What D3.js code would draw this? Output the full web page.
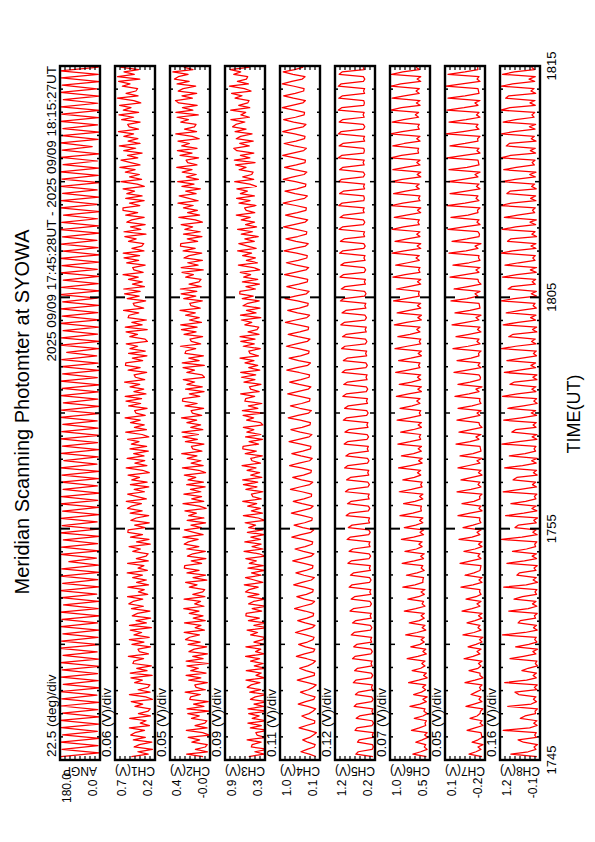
<!DOCTYPE html>
<html><head><meta charset="utf-8">
<script src="https://cdn.jsdelivr.net/npm/d3@7"></script>
<style>html,body{margin:0;padding:0;background:#fff;} svg{display:block;}</style>
</head><body>
<svg id="c" width="595" height="842"></svg>
<script>
const titleText = "Meridian Scanning Photomter at SYOWA";
const subtitleText = "2025 09/09 17:45:28UT - 2025 09/09 18:15:27UT";
const xLabelText = "TIME(UT)";
const timeTickValues = [0, 10, 20, 30];          // minutes after 17:45 UT
const timeTickLabels = ["1745", "1755", "1805", "1815"];
const panelNames = ["ANGP", "CH1(V)", "CH2(V)", "CH3(V)", "CH4(V)", "CH5(V)", "CH6(V)", "CH7(V)", "CH8(V)"];
const perDivLabels = ["22.5 (deg)/div", "0.06 (V)/div", "0.05 (V)/div", "0.09 (V)/div", "0.11 (V)/div", "0.12 (V)/div", "0.07 (V)/div", "0.05 (V)/div", "0.16 (V)/div"];
const topLabels = ["180.0", "0.7", "0.4", "0.9", "1.0", "1.2", "1.0", "0.1", "1.2"];
const bottomLabels = ["0.0", "0.2", "-0.0", "0.3", "0.1", "0.2", "0.5", "-0.2", "-0.1"];
// panel ranges: ANGP in degrees, channels in mV
const yMin = [0, 220, -5, 280, 100, 200, 500, -250, -80];
const yMax = [180, 700, 400, 1000, 980, 1160, 1060, 150, 1200];
const sampleStart = 0.15, sampleEnd = 29.95;     // minutes after 17:45 UT

const angp = [
176,4,171,9,178,2,168,12,174,6,180,3,
169,10,177,5,172,14,179,1,165,8,175,11,
170,3,178,7,166,13,180,2,173,9,167,5,
176,12,171,1,179,8,164,6,174,15,180,4,
168,10,177,3,172,7,140,16,178,5,173,11,
165,2,179,9,170,13,176,4,168,6,180,10,
174,1,166,12,177,7,171,3,179,14,163,8,
175,5,169,11,178,2,172,9,167,13,180,6,
173,3,165,10,177,8,170,1,179,12,168,4,
176,9,172,15,150,6,178,2,174,11,166,7,
180,3,170,10,176,5,168,13,179,1,173,8,
165,4,177,12,171,6,180,2,167,9,175,14,
169,3,178,7,172,11,164,1,179,10,174,5,
168,13,176,2,171,8,180,6,166,12,177,4,
170,35,178,9,173,3,167,11,179,7,172,1,
176,10,165,5,178,14,170,2,174,8,180,6];

const ch1 = [
504,302,426,250,471, 408,258,480,336,512, 462,345,527,286,397, 327,523,275,419,301, 277,460,368,505,251,
331,527,279,423,305, 281,464,372,509,255, 518,316,440,264,485, 474,357,539,298,409, 424,274,496,352,528,
289,472,380,517,263, 526,324,448,272,493, 430,280,502,358,534, 484,367,549,308,419, 349,545,297,441,323,
488,371,553,312,423, 353,549,301,445,327, 303,486,394,531,277, 442,292,514,370,546, 542,340,464,288,509,
446,296,518,374,550, 500,383,565,324,435, 548,346,470,294,515, 315,498,406,543,289, 369,565,317,461,343,
554,352,476,300,521, 321,504,412,549,295, 375,571,323,467,349, 514,397,579,338,449, 464,314,536,392,568,
381,577,329,473,355, 520,403,585,344,455, 470,320,542,398,574, 570,368,492,316,537, 337,520,428,565,311,
339,522,430,567,313, 576,374,498,322,543, 532,415,597,356,467, 482,332,554,410,586, 399,595,347,491,373,
538,421,603,362,473, 488,338,560,416,592, 405,601,353,497,379, 355,538,446,583,329, 592,390,514,338,559,
500,350,572,428,604, 604,402,526,350,571, 375,558,466,603,349, 433,629,381,525,407, 576,459,641,400,511,
628,426,550,374,595, 451,647,399,543,425, 594,477,659,418,529, 548,398,620,476,652, 417,600,508,645,391,
475,671,423,567,449, 429,612,520,657,403, 670,468,592,416,637];

const ch2 = [
65,231,21,143,43, 23,178,100,216,1, 69,235,25,147,47, 27,182,104,220,5, 228,57,162,13,200,
191,92,246,42,136, 149,22,210,88,237, 35,190,112,228,13, 236,65,170,21,208, 155,28,216,94,243,
201,102,256,52,146, 87,253,43,165,65, 205,106,260,56,150, 91,257,47,169,69, 49,204,126,242,27,
167,40,228,106,255, 251,80,185,36,223, 169,42,230,108,257, 214,115,269,65,159, 254,83,188,39,226,
56,211,133,249,34, 102,268,58,180,80, 259,88,193,44,231, 62,217,139,255,40, 108,274,64,186,86,
226,127,281,77,171, 183,56,244,122,271, 112,278,68,190,90, 229,130,284,80,174, 186,59,247,125,274,
270,99,204,55,242, 73,228,150,266,51, 75,230,152,268,53, 276,105,210,61,248, 239,140,294,90,184,
197,70,258,136,285, 126,292,82,204,104, 243,144,298,94,188, 200,73,261,139,288, 129,295,85,207,107,
86,241,163,279,64, 287,116,221,72,259, 206,79,267,145,294, 291,120,225,76,263, 94,249,171,287,72,
144,310,100,222,122, 264,165,319,115,209, 307,136,241,92,279, 156,322,112,234,134, 276,177,331,127,221,
237,110,298,176,325, 126,281,203,319,104, 175,341,131,253,153, 136,291,213,329,114, 340,169,274,125,312,
345,174,279,130,317, 267,140,328,206,355, 316,217,371,167,261];

const ch3 = [
571,292,463,220,526, 512,350,602,269,422, 444,237,543,345,588, 259,511,385,574,223, 587,308,479,236,542,
456,249,555,357,600, 532,370,622,289,442, 347,617,275,473,311, 540,378,630,297,450, 355,625,283,481,319,
287,539,413,602,251, 480,273,579,381,624, 619,340,511,268,574, 488,281,587,389,632, 564,402,654,321,474,
631,352,523,280,586, 311,563,437,626,275, 387,657,315,513,351, 643,364,535,292,598, 323,575,449,638,287,
399,669,327,525,363, 592,430,682,349,502, 524,317,623,425,668, 411,681,339,537,375, 604,442,694,361,514,
536,329,635,437,680, 675,396,567,324,630, 355,607,481,670,319, 359,611,485,674,323, 687,408,579,336,642,
628,466,718,385,538, 560,353,659,461,704, 447,717,375,573,411, 640,478,730,397,550, 572,365,671,473,716,
459,729,387,585,423, 392,644,518,707,356, 721,442,613,370,676, 591,384,690,492,735, 731,452,623,380,686,
412,664,538,727,376, 489,759,417,615,453, 683,521,773,440,593, 751,472,643,400,706, 504,774,432,630,468,
708,546,798,465,618, 648,441,747,549,792, 471,723,597,786,435, 555,825,483,681,519, 495,747,621,810,459,
831,552,723,480,786, 843,564,735,492,798, 720,513,819,621,864, 804,642,894,561,714, 627,897,555,753,591,
567,819,693,882,531, 651,921,579,777,615, 591,843,717,906,555];

const ch4 = [
190,335,520,385,230, 205,368,480,328,245, 180,350,560,400,220, 215,382,500,342,255, 195,367,580,417,235,
210,395,530,355,250, 185,372,600,422,225, 220,410,550,370,260, 200,390,620,440,240, 215,417,570,377,255,
230,415,640,465,270, 210,425,590,385,250, 240,430,660,480,280, 220,440,610,400,260, 250,445,680,495,290,
225,452,630,412,265, 255,457,700,507,295, 235,467,650,427,275, 260,470,720,520,300, 240,480,670,440,280,
270,480,730,530,310, 250,495,690,455,290, 285,497,750,547,325, 260,505,700,465,300, 290,510,770,560,330,
270,520,720,480,310, 300,520,780,570,340, 280,535,740,495,320, 310,535,800,585,350, 290,545,750,505,330,
320,545,810,595,360, 300,560,770,520,340, 330,560,830,610,370, 310,570,780,530,350, 340,570,840,620,380,
320,585,800,545,360, 350,585,860,635,390, 330,595,810,555,370, 360,595,870,645,400, 340,610,830,570,380,
370,605,880,655,410, 350,620,840,580,390, 380,615,890,665,420, 360,630,850,590,400, 390,625,900,675,430,
370,640,860,600,410, 400,635,910,685,440, 380,650,870,610,420, 410,640,910,690,450, 390,660,880,620,430,
420,650,920,700,460, 400,670,890,630,440, 430,655,920,705,470, 410,680,900,640,450, 440,665,930,715,480,
420,685,900,645,460, 450,670,930,720,490, 430,695,910,655,470];

const ch5 = [
250,660,600,270,240, 260,620,580,240,265, 240,680,630,270,235, 270,650,570,250,275, 250,700,640,280,245,
280,670,600,260,285, 260,720,660,290,255, 290,690,620,270,295, 270,740,680,300,265, 300,710,640,280,305,
280,770,700,310,275, 310,740,660,290,315, 290,800,720,320,285, 320,770,690,300,325, 300,820,750,330,295,
330,790,710,310,335, 310,850,770,340,305, 340,820,730,320,345, 320,870,790,350,315, 350,840,750,330,355,
330,890,810,360,325, 360,860,770,340,365, 340,910,830,370,335, 370,880,790,350,375, 350,930,850,380,345,
380,900,810,360,385, 360,940,860,390,355, 390,920,830,370,395, 370,960,880,400,365, 400,930,840,380,405,
380,970,890,410,375, 410,950,860,390,415, 390,990,910,420,385, 420,960,870,400,425, 400,1000,920,430,395,
430,980,890,410,435, 410,1020,940,440,405, 440,990,900,420,445, 420,1030,950,450,415, 450,1010,920,430,455,
430,1040,960,460,425, 460,1020,930,440,465, 440,1050,970,470,435, 470,1030,940,450,475, 450,1060,980,480,445,
480,1040,950,460,485, 460,1070,990,470,455, 470,1050,960,450,475, 450,1080,1000,480,445, 480,1050,970,460,485,
460,1080,1000,470,455, 470,1060,970,450,475, 450,1080,1010,480,445, 480,1060,980,460,485, 460,1080,1000,470,455,
470,1070,980,450,475, 450,1080,1010,480,445, 480,1060,990,460,485];

const ch6 = [
550,740,630,540,580, 560,700,610,530,575, 540,760,650,560,570, 550,720,600,540,585, 570,780,640,550,600,
540,730,620,560,605, 560,800,660,540,590, 550,750,630,570,615, 570,820,670,550,600, 560,770,640,580,625,
580,840,680,560,610, 570,790,650,580,625, 580,860,700,570,610, 590,810,660,580,625, 570,880,710,600,600,
590,830,680,580,625, 600,890,720,590,630, 580,850,690,610,655, 610,900,730,590,640, 590,860,700,600,645,
600,920,740,620,630, 620,870,710,600,645, 600,930,760,610,630, 610,880,720,630,675, 630,940,770,610,660,
610,900,730,620,665, 620,950,780,630,650, 630,910,740,620,665, 620,960,790,630,650, 630,920,750,640,685,
640,970,800,620,670, 620,930,760,630,675, 630,980,810,640,660, 640,940,770,620,665, 620,990,820,630,650,
630,950,780,640,685, 640,1000,830,620,670, 620,960,790,630,675, 630,1010,840,650,660, 650,970,800,630,675,
630,1020,850,640,660, 640,980,810,650,695, 650,1030,860,630,680, 630,990,820,640,685, 640,1030,870,650,670,
650,1000,830,630,675, 630,1040,880,640,660, 640,1010,840,650,695, 650,1040,890,630,680, 630,1020,850,640,685,
640,1050,900,660,670, 660,1020,860,640,685, 640,1050,890,650,670, 650,1030,870,660,705, 660,1050,900,640,690,
640,1030,860,650,695, 650,1050,910,630,680, 630,1040,880,650,695];

const ch7 = [
-220,-90,-160,-210,-180, -230,-120,-180,-220,-215, -210,-70,-150,-230,-200, -220,-100,-170,-200,-205, -230,-60,-140,-220,-190,
-210,-110,-160,-210,-195, -220,-50,-150,-230,-200, -200,-90,-180,-210,-185, -220,-40,-130,-200,-170, -210,-80,-160,-220,-195,
-230,-30,-140,-210,-180, -200,-70,-150,-220,-185, -220,-20,-120,-200,-170, -210,-60,-160,-210,-195, -200,-10,-130,-220,-190,
-220,-50,-140,-200,-205, -210,0,-110,-210,-180, -200,-40,-150,-220,-185, -220,10,-120,-200,-170, -210,-30,-130,-210,-195,
-200,20,-100,-220,-190, -210,-20,-140,-200,-195, -220,30,-110,-210,-180, -200,-10,-120,-220,-185, -210,20,-90,-200,-170,
-220,0,-130,-210,-205, -200,40,-100,-190,-160, -210,10,-110,-220,-195, -190,30,-80,-200,-170, -210,20,-120,-210,-195,
-200,50,-90,-190,-160, -220,20,-100,-200,-205, -190,60,-70,-210,-180, -200,30,-110,-190,-185, -210,70,-80,-200,-170,
-190,40,-90,-210,-175, -200,80,-60,-190,-160, -210,50,-100,-200,-195, -190,90,-70,-180,-150, -200,60,-80,-210,-185,
-180,100,-50,-190,-160, -200,70,-90,-200,-185, -190,110,-60,-180,-150, -210,80,-70,-190,-195, -180,120,-40,-200,-170,
-190,90,-80,-180,-175, -200,130,-50,-190,-160, -180,100,-60,-200,-165, -190,120,-30,-180,-150, -200,110,-70,-190,-185,
-180,130,-40,-200,-170, -190,100,-50,-180,-175, -200,140,-30,-190,-160, -180,110,-60,-200,-165, -190,130,-40,-180,-150,
-200,120,-50,-190,-185, -180,140,-20,-200,-170, -190,120,-50,-180,-175];

const ch8 = [
20,850,300,50,110, 0,450,620,30,90, 40,1100,250,10,120, 20,550,400,60,80, 0,950,200,30,130,
50,600,720,20,100, 10,1050,350,40,140, 30,500,300,0,70, 20,880,450,50,150, 0,700,280,20,90,
40,1120,400,10,130, 30,620,550,60,100, 10,920,300,20,160, 50,750,480,30,80, 20,1080,360,0,140,
40,660,580,50,110, 10,980,420,30,170, 30,800,350,60,90, 20,1150,500,10,150, 50,720,620,40,120,
0,1020,440,20,180, 40,850,380,50,100, 20,1100,550,30,160, 60,780,660,10,130, 30,1050,480,40,190,
10,900,400,60,110, 50,1140,600,20,170, 20,820,700,50,140, 40,1080,520,30,200, 60,950,450,10,120,
30,1120,640,50,180, 50,880,740,20,150, 20,1060,580,60,210, 60,980,500,30,130, 40,1150,700,50,190,
70,920,780,20,160, 30,1100,620,60,220, 50,1000,550,40,140, 80,1160,750,30,200, 40,940,820,70,170,
60,1120,660,40,230, 30,1040,600,80,150, 70,1170,800,50,210, 50,960,860,30,180, 80,1130,700,60,240,
40,1060,640,90,160, 70,1180,840,50,220, 60,980,880,40,190, 90,1140,720,70,250, 50,1080,680,100,170,
80,1180,860,60,230, 70,1000,900,50,200, 100,1150,760,80,260, 60,1100,700,110,180, 90,1180,880,70,240,
80,1020,920,60,210, 110,1160,800,90,270, 70,1120,740,100,190];

const series = [angp, ch1, ch2, ch3, ch4, ch5, ch6, ch7, ch8];

// ---------- layout (unrotated landscape frame, then rotated onto the portrait page) ----------
const left = 82, right = 776;
const panelTop0 = 60, panelH = 40, panelStep = 55;
const font = "'Liberation Sans', Arial, Helvetica, sans-serif";

const svg = d3.select("#c");
svg.append("rect").attr("width", 595).attr("height", 842).attr("fill", "#fff");
const defs = svg.append("defs");
const g = svg.append("g").attr("transform", "translate(0,842) rotate(-90)");

const x = d3.scaleLinear().domain([0, 30]).range([left, right]);

g.append("text").attr("x", 430).attr("y", 29).attr("text-anchor", "middle")
  .attr("font-family", font).attr("font-size", 20).text(titleText);
g.append("text").attr("x", right).attr("y", 56).attr("text-anchor", "end")
  .attr("font-family", font).attr("font-size", 13.5).text(subtitleText);

series.forEach((vals, i) => {
  const v0 = panelTop0 + i * panelStep;
  const y = d3.scaleLinear().domain([yMin[i], yMax[i]]).range([v0 + panelH, v0]);
  const ts = d3.scaleLinear().domain([0, vals.length - 1]).range([sampleStart, sampleEnd]);

  defs.append("clipPath").attr("id", "clip" + i)
    .append("rect").attr("x", left).attr("y", v0).attr("width", right - left).attr("height", panelH);

  const line = d3.line().x((d, j) => x(ts(j))).y(d => y(d));
  g.append("path").datum(vals).attr("d", line)
    .attr("clip-path", "url(#clip" + i + ")")
    .attr("fill", "none").attr("stroke", "#ff0000").attr("stroke-width", 1.25)
    .attr("stroke-linejoin", "round");

  d3.range(1, 30).forEach(m => {
    const len = m % 10 === 0 ? 10 : (m % 5 === 0 ? 5 : 3);
    const sw = m % 10 === 0 ? 2 : 1.5;
    g.append("line").attr("x1", x(m)).attr("x2", x(m)).attr("y1", v0).attr("y2", v0 + len)
      .attr("stroke", "#000").attr("stroke-width", sw);
    g.append("line").attr("x1", x(m)).attr("x2", x(m)).attr("y1", v0 + panelH).attr("y2", v0 + panelH - len)
      .attr("stroke", "#000").attr("stroke-width", sw);
  });
  d3.range(1, 8).forEach(k => {
    const yy = y(yMin[i] + k * (yMax[i] - yMin[i]) / 8);
    g.append("line").attr("x1", left).attr("x2", left + 4).attr("y1", yy).attr("y2", yy)
      .attr("stroke", "#000").attr("stroke-width", 1.2);
    g.append("line").attr("x1", right).attr("x2", right - 4).attr("y1", yy).attr("y2", yy)
      .attr("stroke", "#000").attr("stroke-width", 1.2);
  });

  g.append("rect").attr("x", left).attr("y", v0).attr("width", right - left).attr("height", panelH)
    .attr("fill", "none").attr("stroke", "#000").attr("stroke-width", 2.4);

  g.append("text").attr("x", left + 3).attr("y", v0 - 4)
    .attr("font-family", font).attr("font-size", 13.5).text(perDivLabels[i]);
  g.append("text").attr("x", 54).attr("y", v0 + 10.5).attr("text-anchor", "middle")
    .attr("font-family", font).attr("font-size", 12).text(topLabels[i]);
  g.append("text").attr("x", 54).attr("y", v0 + 37).attr("text-anchor", "middle")
    .attr("font-family", font).attr("font-size", 12).text(bottomLabels[i]);
  g.append("text").attr("transform", `translate(75,${v0 + panelH / 2}) rotate(-90)`)
    .attr("text-anchor", "middle").attr("font-family", font).attr("font-size", 12)
    .text(panelNames[i]);
});

timeTickValues.forEach((t, k) => {
  g.append("text").attr("x", x(t)).attr("y", 556).attr("text-anchor", "middle")
    .attr("font-family", font).attr("font-size", 13).text(timeTickLabels[k]);
});
g.append("text").attr("x", 428).attr("y", 580).attr("text-anchor", "middle")
  .attr("font-family", font).attr("font-size", 18).text(xLabelText);
</script>
</body></html>
